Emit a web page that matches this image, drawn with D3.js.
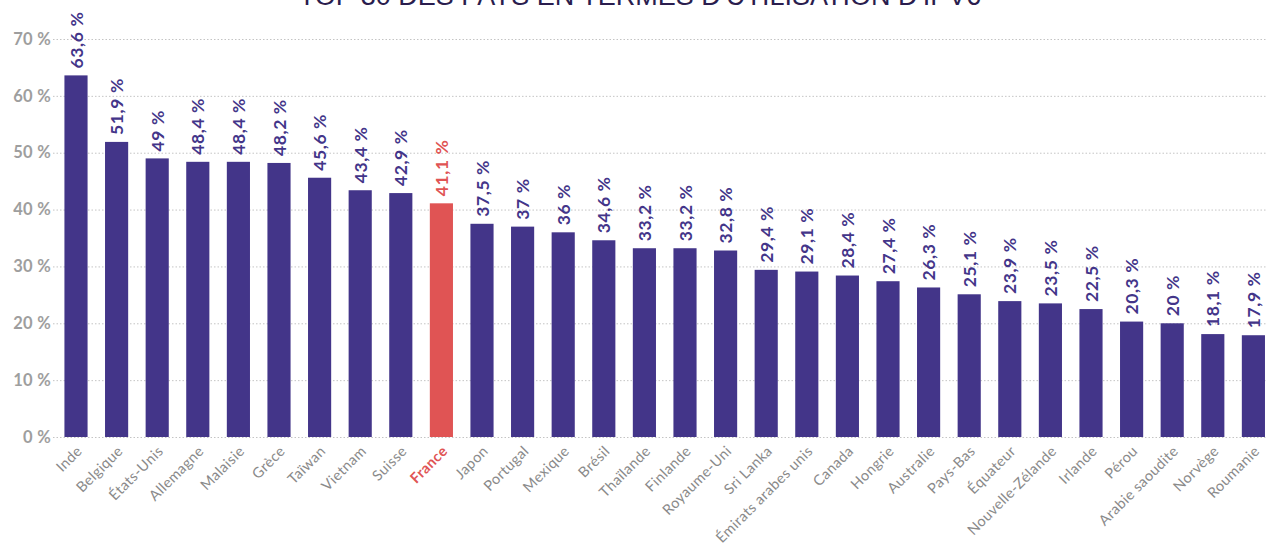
<!DOCTYPE html>
<html>
<head>
<meta charset="utf-8">
<script src="https://cdn.jsdelivr.net/npm/d3@7.9.0/dist/d3.min.js"></script>
<style>
  body { margin: 0; background: #fff; }
  svg { display: block; font-family: Lato, "Noto Sans", sans-serif; }
</style>
</head>
<body>
<svg id="chart" width="1267" height="543"></svg>
<script>
const countries = ['Inde', 'Belgique', 'États-Unis', 'Allemagne', 'Malaisie', 'Grèce', 'Taïwan', 'Vietnam', 'Suisse', 'France',
  'Japon', 'Portugal', 'Mexique', 'Brésil', 'Thaïlande', 'Finlande', 'Royaume-Uni', 'Sri Lanka', 'Émirats arabes unis', 'Canada',
  'Hongrie', 'Australie', 'Pays-Bas', 'Équateur', 'Nouvelle-Zélande', 'Irlande', 'Pérou', 'Arabie saoudite', 'Norvège', 'Roumanie'];
const usage = [63.6, 51.9, 49, 48.4, 48.4, 48.2, 45.6, 43.4, 42.9, 41.1,
  37.5, 37, 36, 34.6, 33.2, 33.2, 32.8, 29.4, 29.1, 28.4,
  27.4, 26.3, 25.1, 23.9, 23.5, 22.5, 20.3, 20, 18.1, 17.9];
const yTicks = [0, 10, 20, 30, 40, 50, 60, 70];
const highlight = 'France';

const purple = '#433589', red = '#e05454', grey = '#9e9e9e', labelGrey = '#8a8a8a';
const data = countries.map((c, i) => ({ country: c, value: usage[i] }));

const svg = d3.select('#chart');
const step = 40.6;
const x = d3.scaleBand()
  .domain(countries)
  .range([55.7, 55.7 + step * countries.length])
  .paddingInner(0.43)
  .paddingOuter(0.215);
const y = d3.scaleLinear().domain([0, 70]).range([437, 39]);

// title (partly cut at the top in the original)
svg.append('text')
  .attr('x', 640).attr('y', 5)
  .attr('text-anchor', 'middle')
  .attr('font-size', 27)
  .attr('font-family', '"Liberation Sans", Arial, sans-serif')
  .attr('fill', '#2a1d4e')
  .text("TOP 30 DES PAYS EN TERMES D'UTILISATION D'IPV6");

// grid
svg.append('g').selectAll('line')
  .data(yTicks)
  .join('line')
  .attr('x1', 53).attr('x2', 1267)
  .attr('y1', d => y(d) + 0.5).attr('y2', d => y(d) + 0.5)
  .attr('stroke', '#c4c4c4')
  .attr('stroke-dasharray', '1.5,2');

// y axis labels
const yAxis = svg.append('g')
  .attr('transform', 'translate(51,0)')
  .call(d3.axisLeft(y).tickValues(yTicks).tickSize(0).tickPadding(0).tickFormat(d => d + ' %'));
yAxis.select('.domain').remove();
yAxis.selectAll('text')
  .attr('fill', grey)
  .attr('font-size', 16.5)
  .attr('font-weight', 700)
  .attr('letter-spacing', 0.3)
  .attr('font-family', 'Lato, sans-serif');

// bars
svg.append('g').selectAll('rect')
  .data(data)
  .join('rect')
  .attr('x', d => x(d.country))
  .attr('y', d => y(d.value))
  .attr('width', x.bandwidth())
  .attr('height', d => y(0) - y(d.value))
  .attr('fill', d => d.country === highlight ? red : purple);

// value labels
const fmt = v => String(v).replace('.', ',') + ' %';
svg.append('g').selectAll('text')
  .data(data)
  .join('text')
  .attr('transform', d => `translate(${x(d.country) + x.bandwidth() / 2 + 6.5},${y(d.value) - 7}) rotate(-90)`)
  .attr('font-size', 17.5)
  .attr('font-weight', 700)
  .attr('letter-spacing', 0.6)
  .attr('fill', d => d.country === highlight ? red : purple)
  .text(d => fmt(d.value));

// x axis labels
const xAxis = svg.append('g')
  .attr('transform', `translate(0,${y(0)})`)
  .call(d3.axisBottom(x).tickSize(0).tickPadding(0));
xAxis.select('.domain').remove();
xAxis.selectAll('text')
  .attr('text-anchor', 'end')
  .attr('font-size', 14.5)
  .attr('letter-spacing', 0.4)
  .attr('font-family', 'Lato, sans-serif')
  .attr('dy', 0)
  .attr('transform', 'translate(7,15) rotate(-45)')
  .attr('fill', d => d === highlight ? red : labelGrey)
  .attr('font-weight', d => d === highlight ? 700 : 400);
</script>
</body>
</html>
